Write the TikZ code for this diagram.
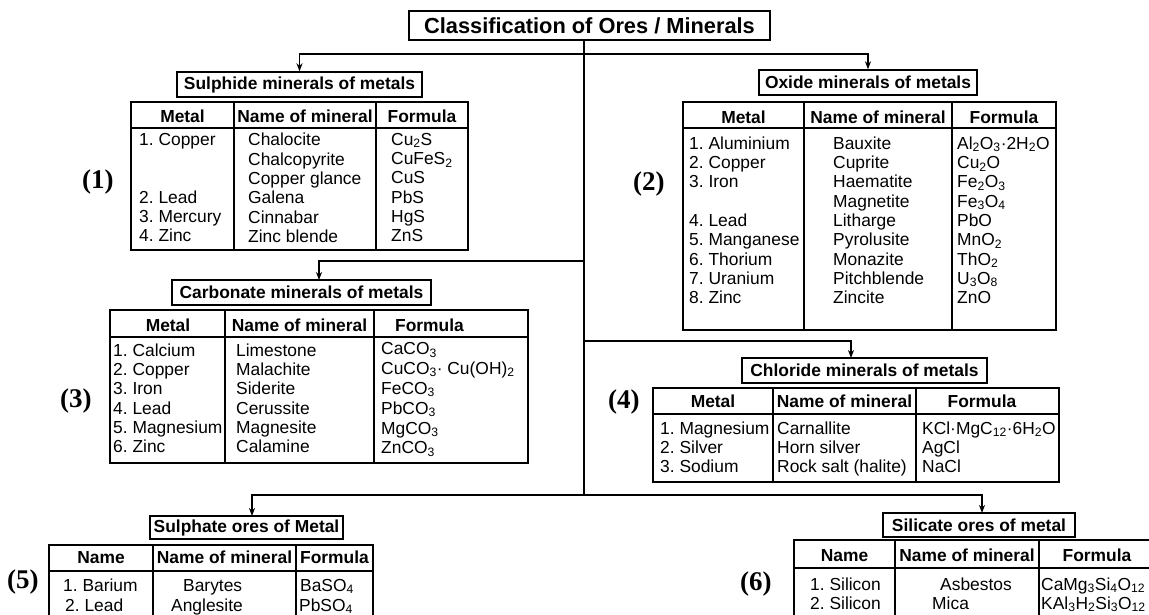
\documentclass[tikz,border=0pt]{standalone}
\usepackage{fontspec}
\setmainfont{Liberation Sans}
\newfontfamily\labfont{Liberation Serif}
\usetikzlibrary{arrows.meta}
\newcommand\tf{\fontsize{17.4}{19.3}\selectfont}
\newcommand\tfw{\fontsize{17.4}{19.9}\selectfont}
\newcommand\sub[1]{\textsubscript{#1}}
\newcommand\cdt{{\textperiodcentered}}
\begin{document}
\frenchspacing
\begin{tikzpicture}[x=1pt,y=-1pt,
  conn/.style={line width=1.3pt},
  arr/.style={conn,-{Stealth[length=8pt,width=6pt,inset=2.5pt]}},
  hbox/.style={draw,line width=1.4pt,inner sep=0pt,font=\bfseries\tf},
  tbl/.style={line width=1.6pt},
  hdr/.style={anchor=base,inner sep=0pt,font=\bfseries\tf},
  col/.style={anchor=north west,yshift=13.51pt,inner sep=0pt,align=left,font=\tf,execute at begin node=\strut},
  colw/.style={anchor=north west,yshift=13.93pt,inner sep=0pt,align=left,font=\tfw,execute at begin node=\strut},
  one/.style={anchor=base west,inner sep=0pt,font=\tf},
  lab/.style={anchor=base west,inner sep=0pt,font=\labfont\bfseries\fontsize{27}{27}\selectfont}]
\useasboundingbox (0,0) rectangle (1149,614);
\clip (0,0) rectangle (1149,614);
\fill[white] (0,0) rectangle (1149,614);

% title and section boxes
\node[hbox,minimum width=361pt,minimum height=29pt,font=\bfseries\fontsize{21.8}{24}\selectfont] (title) at (589.5,25.5) {Classification of Ores / Minerals};
\node[hbox,minimum width=245pt,minimum height=25pt] (sulT) at (299.5,84.5) {Sulphide minerals of metals};
\node[hbox,minimum width=218pt,minimum height=25pt] (oxT) at (868,82.5) {Oxide minerals of metals};
\node[hbox,minimum width=259pt,minimum height=25pt] (carbT) at (301.5,292.5) {Carbonate minerals of metals};
\node[hbox,minimum width=245pt,minimum height=25pt] (chlT) at (864.5,370.5) {Chloride minerals of metals};
\node[hbox,minimum width=193pt,minimum height=23pt] (sulfT) at (246.5,527.5) {Sulphate ores of Metal};
\node[hbox,minimum width=192pt,minimum height=24pt] (silT) at (979,525) {Silicate ores of metal};

% connectors
\coordinate (j1) at (584,54);
\coordinate (j2) at (584,261);
\coordinate (j3) at (584,341);
\coordinate (j4) at (584,495);
\coordinate (carbA) at (319,280);
\coordinate (chlA) at (851,358);
\coordinate (sulfA) at (252,516);
\coordinate (silA) at (982,513);
\draw[conn] (title.south -| j1) -- (j4);
\draw[arr] (j1) -| (sulT.north);
\draw[arr] (j1) -| (oxT.north);
\draw[arr] (j2) -| (carbA);
\draw[arr] (j3) -| (chlA);
\draw[arr] (j4) -| (sulfA);
\draw[arr] (j4) -| (silA);

% tables
\draw[tbl] (131,102) rectangle (468,250) (131,128) -- (468,128) (234,102) -- (234,250) (376,102) -- (376,250);
\draw[tbl] (683,102) rectangle (1056,330) (683,128) -- (1056,128) (804,102) -- (804,330) (952,102) -- (952,330);
\draw[tbl] (110,310) rectangle (528,463) (110,337) -- (528,337) (225,310) -- (225,463) (374,310) -- (374,463);
\draw[tbl] (653,388) rectangle (1059,482) (653,414) -- (1059,414) (773,388) -- (773,482) (916,388) -- (916,482);
\draw[tbl] (49,545) rectangle (373,640) (49,571) -- (373,571) (153,545) -- (153,640) (296,545) -- (296,640);
\draw[tbl] (794,540) rectangle (1170,640) (794,568) -- (1170,568) (895,540) -- (895,640) (1039,540) -- (1039,640);

% labels
\node[lab] (L1) at (82,188) {(1)};
\node[lab] (L2) at (633,190) {(2)};
\node[lab] (L3) at (60,407) {(3)};
\node[lab] (L4) at (608,408) {(4)};
\node[lab] (L5) at (7,588) {(5)};
\node[lab] (L6) at (740,590) {(6)};

% sulphide
\node[hdr] (sh1) at (182.5,122) {Metal};
\node[hdr] (sh2) at (305,122) {Name of mineral};
\node[hdr] (sh3) at (422,122) {Formula};
\node[col] (s1) at (139,146.5) {1. Copper\\ \\ \\2. Lead\\3. Mercury\\4. Zinc};
\node[col] (s2) at (248,146.5) {Chalocite\\Chalcopyrite\\Copper glance\\Galena\\Cinnabar\\Zinc blende};
\node[col] (s3) at (391,146.5) {Cu\sub{2}S\\CuFeS\sub{2}\\CuS\\PbS\\HgS\\ZnS};

% oxide
\node[hdr] (oh1) at (743.5,123) {Metal};
\node[hdr] (oh2) at (878,123) {Name of mineral};
\node[hdr] (oh3) at (1004,123) {Formula};
\node[col] (o1) at (689,150) {1. Aluminium\\2. Copper\\3. Iron\\ \\4. Lead\\5. Manganese\\6. Thorium\\7. Uranium\\8. Zinc};
\node[col] (o2) at (833,150) {Bauxite\\Cuprite\\Haematite\\Magnetite\\Litharge\\Pyrolusite\\Monazite\\Pitchblende\\Zincite};
\node[col] (o3) at (957,150) {Al\sub{2}O\sub{3}\cdt 2H\sub{2}O\\Cu\sub{2}O\\Fe\sub{2}O\sub{3}\\Fe\sub{3}O\sub{4}\\PbO\\MnO\sub{2}\\ThO\sub{2}\\U\sub{3}O\sub{8}\\ZnO};

% carbonate
\node[hdr] (ch1) at (168,331) {Metal};
\node[hdr] (ch2) at (299.5,331) {Name of mineral};
\node[hdr,anchor=base west] (ch3) at (395,331) {Formula};
\node[col] (c1) at (113,357) {1. Calcium\\2. Copper\\3. Iron\\4. Lead\\5. Magnesium\\6. Zinc};
\node[col] (c2) at (236,357) {Limestone\\Malachite\\Siderite\\Cerussite\\Magnesite\\Calamine};
\node[colw] (c3) at (381,356) {CaCO\sub{3}\\CuCO\sub{3}\cdt\ Cu(OH)\sub{2}\\FeCO\sub{3}\\PbCO\sub{3}\\MgCO\sub{3}\\ZnCO\sub{3}};

% chloride
\node[hdr] (hh1) at (713,407) {Metal};
\node[hdr] (hh2) at (844.5,407) {Name of mineral};
\node[hdr] (hh3) at (982,407) {Formula};
\node[col] (h1) at (660,435) {1. Magnesium\\2. Silver\\3. Sodium};
\node[col] (h2) at (777,435) {Carnallite\\Horn silver\\Rock salt (halite)};
\node[col] (h3) at (922,435) {KCl\cdt MgC\sub{12}\cdt 6H\sub{2}O\\AgCl\\NaCl};

% sulphate
\node[hdr] (ph1) at (101,563) {Name};
\node[hdr] (ph2) at (224.5,563) {Name of mineral};
\node[hdr] (ph3) at (334.5,563) {Formula};
\node[one] (p1a) at (63,591) {1. Barium};
\node[one] (p1b) at (65,611) {2. Lead};
\node[one] (p2a) at (183,591) {Barytes};
\node[one] (p2b) at (171,611) {Anglesite};
\node[one] (p3a) at (300,591) {BaSO\sub{4}};
\node[one] (p3b) at (299,611) {PbSO\sub{4}};

% silicate
\node[hdr] (ih1) at (844.5,561) {Name};
\node[hdr] (ih2) at (967,561) {Name of mineral};
\node[hdr] (ih3) at (1097,561) {Formula};
\node[one] (i1a) at (810,590) {1. Silicon};
\node[one] (i1b) at (810,609) {2. Silicon};
\node[one] (i2a) at (940,590) {Asbestos};
\node[one] (i2b) at (932,609) {Mica};
\node[one] (i3a) at (1041,590) {CaMg\sub{3}Si\sub{4}O\sub{12}};
\node[one] (i3b) at (1041,609) {KAl\sub{3}H\sub{2}Si\sub{3}O\sub{12}};
\end{tikzpicture}
\end{document}
